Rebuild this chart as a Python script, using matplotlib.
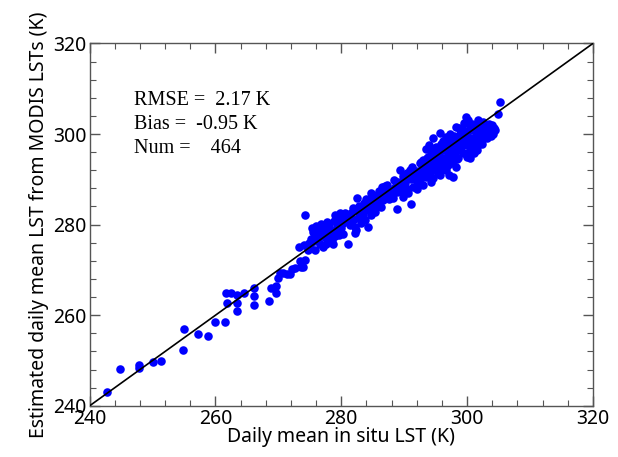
import numpy as np
import matplotlib
matplotlib.use('Agg')
import matplotlib.pyplot as plt
from matplotlib.ticker import MultipleLocator

plt.rcParams['font.family'] = ['Noto Sans', 'DejaVu Sans']

# Low range (< 275 K): insitu / MODIS estimate
low_insitu = [242.8, 244.8, 247.9, 247.9, 250.1, 251.4, 255.0, 254.9, 257.3, 258.8,
              259.9, 261.5, 261.7, 262.5, 263.4, 261.9, 263.4, 263.4, 264.6, 266.2,
              266.2, 266.2, 268.5, 268.9, 269.6, 269.6, 269.9, 270.3, 270.8, 271.3,
              271.8, 272.2, 272.6, 273.2, 273.4, 273.6, 273.9, 274.3, 274.2, 274.7, 274.0]
low_modis = [243.0, 248.2, 249.1, 248.4, 249.7, 249.9, 257.0, 252.4, 255.8, 255.4,
             258.5, 258.5, 264.8, 264.8, 264.4, 262.8, 262.6, 261.0, 264.8, 265.9,
             264.3, 262.2, 263.2, 265.9, 266.5, 264.9, 268.3, 269.4, 269.4, 269.0,
             269.2, 270.3, 270.5, 275.1, 272.0, 270.7, 270.7, 272.2, 282.1, 274.4, 275.6]

# Mid range (275-286 K)
mid_insitu = [275.5, 275.8, 276.0, 276.2, 276.5, 276.8, 276.3, 275.2, 276.9, 277.2,
              277.5, 277.8, 277.9, 278.3, 278.6, 277.8, 279.0, 279.8, 279.3, 278.7,
              276.6, 275.9, 277.1, 275.0, 274.8, 275.6, 276.0, 276.4, 277.0, 278.2,
              278.8, 279.5, 279.0, 279.6, 280.0, 280.3, 280.8, 281.4, 281.9, 282.7,
              283.5, 283.0, 284.0, 284.6, 285.1, 285.9, 286.1, 281.4, 282.2, 283.2,
              283.8, 284.8, 285.3, 282.4, 281.6, 284.8, 281.0, 282.2, 282.4, 284.3,
              282.5, 284.7, 280.5, 281.2, 283.0, 284.2, 285.5, 285.8, 280.2, 279.2,
              283.6, 282.8,
              276.7, 277.4, 278.0, 275.4, 276.1, 277.6, 278.9, 280.6, 279.9, 281.8,
              283.9, 285.0, 286.0, 286.3, 285.4]
mid_modis = [278.4, 277.6, 278.9, 277.0, 278.2, 277.5, 276.3, 276.8, 279.0, 278.0,
             277.0, 278.5, 276.2, 277.3, 276.5, 280.5, 282.1, 282.5, 279.5, 275.8,
             275.8, 274.4, 275.1, 275.5, 276.0, 276.4, 279.6, 279.2, 279.4, 278.9,
             278.3, 278.5, 277.4, 277.8, 279.2, 280.3, 281.0, 281.7, 281.0, 281.4,
             282.1, 283.9, 283.2, 284.7, 285.4, 284.7, 286.2, 279.9, 279.5, 280.3,
             281.0, 282.1, 282.8, 283.2, 282.5, 283.6, 275.8, 278.2, 278.8, 279.5,
             285.9, 287.0, 281.8, 280.6, 282.6, 284.4, 283.8, 286.6, 278.0, 280.6,
             284.8, 284.2,
             280.2, 279.8, 279.5, 279.2, 276.9, 275.8, 280.8, 282.6, 281.4, 283.6,
             285.6, 286.6, 287.4, 283.9, 285.0]

# High range (> 286 K)
high_insitu = [286.4, 286.9, 287.2, 288.0, 288.5, 289.0, 289.3, 289.6, 290.1, 290.6,
               290.9, 291.2, 291.4, 291.9, 292.2, 288.8, 289.8, 290.6, 288.3, 287.5,
               286.8, 291.1, 287.0, 287.8, 288.9, 289.4, 290.3, 291.6, 292.0, 292.6,
               292.8, 286.6, 287.6, 288.2,
               292.5, 293.0, 293.3, 293.5, 293.8, 294.1, 294.3, 294.6, 294.9, 295.1,
               295.4, 295.7, 295.9, 296.2, 296.5, 296.7, 297.0, 297.2, 297.5, 297.8,
               298.0, 298.3, 295.9, 296.7, 297.2, 295.1, 294.1, 293.5, 294.6, 297.8,
               295.7, 297.1, 294.2, 294.5, 295.7, 298.2, 299.8, 293.4,
               293.2, 293.9, 294.4, 294.8, 295.3, 295.6, 296.0, 296.3, 296.8, 297.0,
               297.4, 297.7, 298.1, 298.4, 296.4, 297.6, 298.6, 295.2, 293.6, 292.9,
               298.8, 299.1, 299.4, 299.6, 299.9, 300.2, 300.4, 300.7, 301.0, 301.2,
               301.5, 301.7, 302.0, 302.3, 302.5, 302.8, 303.1, 303.3, 303.6, 303.9,
               304.1, 304.4, 301.7, 302.5, 299.4, 300.4, 298.6, 301.7, 299.9, 298.3,
               304.9, 305.3, 304.0,
               299.0, 299.3, 299.7, 300.0, 300.3, 300.6, 300.9, 301.3, 301.6, 301.9,
               302.2, 302.6, 302.9, 303.2, 303.5, 303.8, 304.2, 302.4, 301.1, 300.1,
               298.9, 298.5, 300.8,
               289.8, 290.4, 291.0, 291.8, 292.3, 293.0, 292.7, 293.9, 294.7, 295.5,
               296.1, 296.9, 297.9, 298.7, 299.5, 300.5, 300.2, 299.2, 297.3, 294.0]
high_modis = [288.4, 287.7, 288.7, 286.9, 288.4, 289.5, 292.0, 287.7, 289.1, 290.2,
              292.0, 292.8, 288.4, 289.8, 291.3, 283.4, 286.2, 286.9, 289.9, 286.2,
              286.9, 284.5, 288.6, 287.6, 287.2, 288.6, 288.0, 290.8, 287.9, 290.4,
              292.6, 285.4, 285.6, 285.9,
              293.5, 294.2, 292.0, 292.8, 295.0, 291.3, 293.9, 295.7, 292.4, 293.5,
              291.3, 295.0, 292.8, 296.5, 293.9, 292.0, 295.7, 297.9, 293.5, 295.0,
              297.2, 292.8, 297.9, 299.4, 300.1, 297.2, 296.5, 290.6, 290.2, 290.6,
              290.9, 290.9, 289.4, 299.2, 300.3, 301.5, 303.7, 296.6,
              293.0, 293.2, 292.0, 294.6, 294.2, 293.0, 294.8, 292.6, 295.0, 293.2,
              296.4, 294.0, 295.6, 294.4, 297.4, 298.6, 298.0, 296.0, 294.6, 291.4,
              298.7, 296.5, 300.9, 297.9, 295.0, 299.4, 297.2, 300.9, 298.7, 302.0,
              296.5, 300.1, 302.3, 297.9, 300.9, 302.0, 300.1, 301.6, 300.9, 302.0,
              300.1, 300.9, 303.1, 302.7, 295.7, 294.6, 294.6, 297.5, 297.6, 296.5,
              304.5, 307.0, 300.5,
              297.4, 299.0, 299.8, 298.2, 296.0, 299.0, 297.6, 299.4, 301.0, 299.2,
              301.2, 299.4, 300.6, 299.2, 302.2, 299.6, 301.4, 298.6, 295.8, 300.6,
              300.0, 299.2, 302.2,
              290.8, 291.4, 290.0, 291.8, 289.2, 288.8, 293.8, 291.6, 293.0, 296.8,
              298.4, 296.8, 299.6, 301.4, 302.4, 301.6, 303.0, 300.4, 299.0, 297.6]

insitu = np.array(low_insitu + mid_insitu + high_insitu)
modis = np.array(low_modis + mid_modis + high_modis)

stats_lines = ['RMSE =  2.17 K', 'Bias =  -0.95 K', 'Num =    464']

fig = plt.figure(figsize=(6.18, 4.57), dpi=100)
ax = fig.add_axes([0.145, 0.112, 0.8145, 0.793])

ax.scatter(insitu, modis, s=38, color='#0000ff', linewidths=0, zorder=3)
ax.plot([240, 320], [240, 320], color='black', linewidth=1.2, zorder=4)

ax.set_xlim(240, 320)
ax.set_ylim(240, 320)
ax.xaxis.set_major_locator(MultipleLocator(20))
ax.yaxis.set_major_locator(MultipleLocator(20))
ax.xaxis.set_minor_locator(MultipleLocator(4))
ax.yaxis.set_minor_locator(MultipleLocator(4))
ax.tick_params(which='both', direction='in', top=True, right=True, color='#555555',
               labelsize=14, pad=2)
ax.tick_params(which='major', length=7, width=1)
ax.tick_params(which='minor', length=4, width=0.8)
for sp in ax.spines.values():
    sp.set_color('#555555')
    sp.set_linewidth(1)

ax.set_xlabel('Daily mean in situ LST (K)', fontsize=14, labelpad=-1)
ax.set_ylabel('Estimated daily mean LST from MODIS LSTs (K)', fontsize=14, labelpad=3)

for i, line in enumerate(stats_lines):
    ax.text(247.0, 307.5 - 5.4 * i, line, family='Liberation Serif', fontsize=14.5,
            va='center', ha='left')

fig.savefig('out.png', dpi=100)
